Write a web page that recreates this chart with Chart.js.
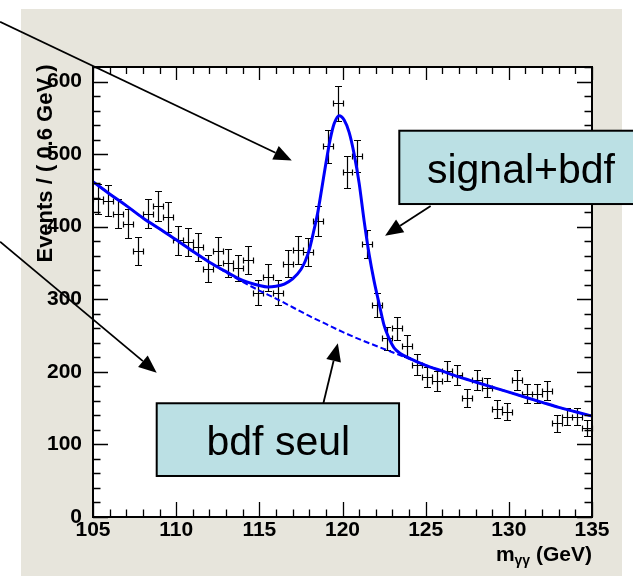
<!DOCTYPE html>
<html>
<head>
<meta charset="utf-8">
<script src="https://cdn.jsdelivr.net/npm/chart.js@4/dist/chart.umd.min.js"></script>
<style>
html,body{margin:0;padding:0;background:#ffffff;}
#wrap{width:633px;height:576px;position:relative;}
</style>
</head>
<body>
<div id="wrap"><canvas id="c" width="633" height="576"></canvas></div>
<script>
// ---- data ----
const binCenters = [105.3,105.9,106.5,107.1,107.7,108.3,108.9,109.5,110.1,110.7,
  111.3,111.9,112.5,113.1,113.7,114.3,114.9,115.5,116.1,116.7,
  117.3,117.9,118.5,119.1,119.7,120.3,120.9,121.5,122.1,122.7,
  123.3,123.9,124.5,125.1,125.7,126.3,126.9,127.5,128.1,128.7,
  129.3,129.9,130.5,131.1,131.7,132.3,132.9,133.5,134.1,134.7];
const counts = [438,436,418,404,367,418,429,413,381,379,
  372,342,366,350,343,354,309,330,309,349,
  368,365,408,511,570,475,497,376,292,246,
  260,236,210,193,188,201,196,164,189,178,
  149,145,189,170,170,174,129,138,138,123];
const binHalfWidth = 0.3;

const bgX = [105,106,107,108,109,110,111,112,113,114,115,116,117,118,119,120,
  121,122,123,124,125,126,127,128,129,130,131,132,133,134,135];
const bgY = [462,445,429,412,397,382,366,351,337,324,312,301,289,277,266,255,
  245,236,227,218,209,201,193,186,179,172,165,158,151,145,139];

const sbX = [105,106,107,108,109,110,111,112,113,114,115,115.5,116,116.5,117,117.5,117.75,
  118,118.25,118.5,118.75,119,119.25,119.5,119.8,120.1,120.4,120.7,121,121.3,121.6,121.9,
  122.2,122.5,122.8,123.1,123.5,124,125,126,127,128,129,130,131,132,133,134,135];
const sbY = [462,445,429,412,397,382,366,351,338,326,319,317,318,321,328,341,352,
  368,392,418,452,487,519,542,553,547,530,500,460,408,362,325,
  294,264,246,233,225,219,209,201,193,186,179,172,165,158,151,145,139];

const xTickLabels = [105,110,115,120,125,130,135];
const yTickLabels = [0,100,200,300,400,500,600];

const xTitleMain = 'm';
const xTitleSub = 'γγ';
const xTitleRest = ' (GeV)';
const yTitle = 'Events / ( 0.6 GeV )';

// annotations in data units
const annotArrows = [
  {from:[99.41,682.4], to:[116.95,491.2]},
  {from:[99.41,379.3], to:[108.83,198.8]},
  {from:[125.30,428.5], to:[122.56,387.6]},
  {from:[118.85,156.7], to:[119.72,239.3]}
];
const annotBoxes = [
  {text:'signal+bdf', x0:123.415, x1:138.5, y0:532.2, y1:431.2, tx:130.73, ty:459.7},
  {text:'bdf seul', x0:108.83, x1:123.40, y0:156.7, y1:56.5, tx:116.14, ty:85.4}
];

// ---- styling ----
const BLUE = 'rgb(0,0,250)';
const BEIGE = '#e7e5dc';
const BOXFILL = '#bbe0e4';
const FONT = '"Liberation Sans", Arial, Helvetica, sans-serif';

const bgPlugin = {
  id:'bgPlugin',
  beforeDraw(chart){
    const {ctx, chartArea:a} = chart;
    ctx.save();
    ctx.fillStyle = '#ffffff';
    ctx.fillRect(0,0,chart.width,chart.height);
    ctx.fillStyle = BEIGE;
    ctx.fillRect(21,9,601,567);
    ctx.fillStyle = '#ffffff';
    ctx.fillRect(a.left,a.top,a.right-a.left,a.bottom-a.top);
    ctx.restore();
  }
};

const errPlugin = {
  id:'errPlugin',
  beforeDatasetsDraw(chart){
    const {ctx, scales:{x,y}} = chart;
    ctx.save();
    ctx.strokeStyle = '#000';
    ctx.lineWidth = 1.2;
    ctx.beginPath();
    for (let i=0;i<binCenters.length;i++){
      const c = binCenters[i], v = counts[i], e = Math.sqrt(v);
      const px = Math.round(x.getPixelForValue(c))+0.5;
      const py = Math.round(y.getPixelForValue(v))+0.5;
      const pt = Math.round(y.getPixelForValue(v+e))+0.5;
      const pb = Math.round(y.getPixelForValue(v-e))+0.5;
      const pl = Math.round(x.getPixelForValue(c-binHalfWidth))+0.5;
      const pr = Math.round(x.getPixelForValue(c+binHalfWidth))+0.5;
      ctx.moveTo(px,pt); ctx.lineTo(px,pb);
      ctx.moveTo(pl,py); ctx.lineTo(pr,py);
      ctx.moveTo(px-3.5,pt); ctx.lineTo(px+3.5,pt);
      ctx.moveTo(px-3.5,pb); ctx.lineTo(px+3.5,pb);
      ctx.moveTo(pl,py-3); ctx.lineTo(pl,py+3);
      ctx.moveTo(pr,py-3); ctx.lineTo(pr,py+3);
    }
    ctx.stroke();
    ctx.restore();
  }
};

const frameMinorX = 1, frameMajorX = 5, frameMinorY = 20, frameMajorY = 100;
const framePlugin = {
  id:'framePlugin',
  afterDatasetsDraw(chart){
    const {ctx, chartArea:a, scales:{x,y}} = chart;
    ctx.save();
    ctx.strokeStyle = '#000';
    ctx.lineWidth = 1.3;
    ctx.beginPath();
    for (let v=x.min; v<=x.max+1e-9; v+=frameMinorX){
      const px = Math.round(x.getPixelForValue(v))+0.5;
      const major = Math.abs(v/frameMajorX - Math.round(v/frameMajorX))<1e-6;
      const L = major?15:7.5;
      ctx.moveTo(px,a.bottom); ctx.lineTo(px,a.bottom-L);
      ctx.moveTo(px,a.top); ctx.lineTo(px,a.top+(major?13:7));
    }
    for (let v=y.min; v<=y.max+1e-9; v+=frameMinorY){
      const py = Math.round(y.getPixelForValue(v))+0.5;
      const major = Math.abs(v/frameMajorY - Math.round(v/frameMajorY))<1e-6;
      const L = major?15:7.5;
      ctx.moveTo(a.left,py); ctx.lineTo(a.left+L,py);
      ctx.moveTo(a.right,py); ctx.lineTo(a.right-L,py);
    }
    ctx.stroke();
    ctx.lineWidth = 2;
    ctx.strokeRect(a.left,a.top,a.right-a.left,a.bottom-a.top);
    ctx.restore();
  }
};

function drawArrow(ctx, x0,y0,x1,y1){
  const ang = Math.atan2(y1-y0,x1-x0);
  const hl = 18, hw = 7.5;
  const bx = x1 - hl*Math.cos(ang), by = y1 - hl*Math.sin(ang);
  ctx.beginPath();
  ctx.moveTo(x0,y0); ctx.lineTo(bx,by);
  ctx.stroke();
  ctx.beginPath();
  ctx.moveTo(x1,y1);
  ctx.lineTo(bx + hw*Math.sin(ang), by - hw*Math.cos(ang));
  ctx.lineTo(bx - hw*Math.sin(ang), by + hw*Math.cos(ang));
  ctx.closePath();
  ctx.fill();
}

const annotPlugin = {
  id:'annotPlugin',
  afterDraw(chart){
    const {ctx, chartArea:a, scales:{x,y}} = chart;
    ctx.save();
    // titles
    ctx.fillStyle = '#000';
    ctx.save();
    ctx.translate(52, (a.top+260)/2);
    ctx.rotate(-Math.PI/2);
    ctx.font = 'bold 22px ' + FONT;
    ctx.textAlign = 'center';
    ctx.textBaseline = 'alphabetic';
    ctx.fillText(yTitle, 0, 0);
    ctx.restore();

    const fMain = 'bold 21px ' + FONT, fSub = 'bold 14px ' + FONT;
    ctx.font = fMain; const wRest = ctx.measureText(xTitleRest).width; const wMain = ctx.measureText(xTitleMain).width;
    ctx.font = fSub; const wSub = ctx.measureText(xTitleSub).width;
    const xEnd = a.right, base = 561;
    let xs = xEnd - wRest - wSub - wMain;
    ctx.textAlign = 'left'; ctx.textBaseline = 'alphabetic';
    ctx.font = fMain; ctx.fillText(xTitleMain, xs, base);
    ctx.font = fSub; ctx.fillText(xTitleSub, xs + wMain, base + 4);
    ctx.font = fMain; ctx.fillText(xTitleRest, xs + wMain + wSub, base);

    // arrows
    ctx.strokeStyle = '#000'; ctx.fillStyle = '#000'; ctx.lineWidth = 1.8;
    for (const ar of annotArrows){
      drawArrow(ctx, x.getPixelForValue(ar.from[0]), y.getPixelForValue(ar.from[1]),
                     x.getPixelForValue(ar.to[0]), y.getPixelForValue(ar.to[1]));
    }
    // boxes
    for (const b of annotBoxes){
      const bx0 = x.getPixelForValue(b.x0), bx1 = x.getPixelForValue(b.x1);
      const by0 = y.getPixelForValue(b.y0), by1 = y.getPixelForValue(b.y1);
      ctx.fillStyle = BOXFILL;
      ctx.fillRect(bx0,by0,bx1-bx0,by1-by0);
      ctx.lineWidth = 2; ctx.strokeStyle = '#000';
      ctx.strokeRect(bx0,by0,bx1-bx0,by1-by0);
      ctx.fillStyle = '#000';
      ctx.font = '41px ' + FONT;
      ctx.textAlign = 'center'; ctx.textBaseline = 'alphabetic';
      ctx.fillText(b.text, x.getPixelForValue(b.tx), y.getPixelForValue(b.ty));
    }
    ctx.restore();
  }
};

const chart = new Chart(document.getElementById('c'), {
  type:'line',
  data:{
    datasets:[
      {label:'données', data: binCenters.map((c,i)=>({x:c,y:counts[i]})), showLine:false, pointRadius:0, order:3},
      {label:'bdf seul', data: bgX.map((c,i)=>({x:c,y:bgY[i]})), borderColor:BLUE, borderWidth:2,
        borderDash:[6,3], pointRadius:0, cubicInterpolationMode:'monotone', fill:false, order:2},
      {label:'signal+bdf', data: sbX.map((c,i)=>({x:c,y:sbY[i]})), borderColor:BLUE, borderWidth:3,
        pointRadius:0, cubicInterpolationMode:'monotone', fill:false, order:1}
    ]
  },
  options:{
    responsive:false,
    animation:false,
    events:[],
    layout:{padding:{top:67,right:41,left:0,bottom:0}},
    plugins:{legend:{display:false}, tooltip:{enabled:false}},
    scales:{
      x:{type:'linear', min:105, max:135,
        grid:{display:false}, border:{display:false},
        afterBuildTicks(s){ s.ticks = xTickLabels.map(v=>({value:v})); },
        ticks:{color:'#000', font:{family:FONT, size:21, weight:'bold'}, padding:-7, maxRotation:0, autoSkip:false},
        afterFit(s){ s.height = 59; }
      },
      y:{type:'linear', min:0, max:620,
        grid:{display:false}, border:{display:false},
        afterBuildTicks(s){ s.ticks = yTickLabels.map(v=>({value:v})); },
        ticks:{color:'#000', font:{family:FONT, size:21, weight:'bold'}, padding:3, autoSkip:false},
        afterFit(s){ s.width = 93; }
      }
    }
  },
  plugins:[bgPlugin, errPlugin, framePlugin, annotPlugin]
});
</script>
</body>
</html>
